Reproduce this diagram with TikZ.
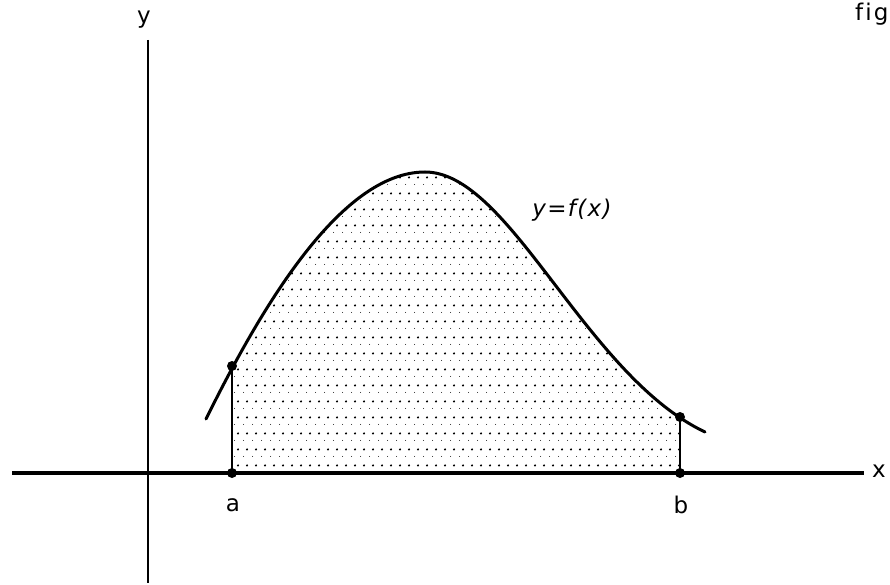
\documentclass[tikz,border=0pt]{standalone}
\usepackage{fontspec}
\setmainfont{DejaVu Sans}[Ligatures=NoCommon]
\usetikzlibrary{patterns.meta}

\tikzdeclarepattern{
  name=areadots,
  type=uncolored,
  bounding box={(0pt,0pt) and (9pt,16pt)},
  tile size={(9pt,16pt)},
  code={
    \fill (0pt,0pt) circle (1.25pt);
    \fill (4.5pt,8pt) circle (1.25pt);
  }
}

\begin{document}
\begin{tikzpicture}[
  x=1pt,y=-1pt,
  lbl/.style={inner sep=0pt,font=\fontsize{23}{26}\selectfont\addfontfeature{LetterSpace=9}},
  axis/.style={line width=3.4pt},
  curve/.style={line width=3pt,line cap=round},
  ordinate/.style={line width=2.8pt},
  pt/.style={circle,fill,inner sep=0pt,minimum size=10pt},
]
  \useasboundingbox (0,0) rectangle (890,585);

  % axes
  \coordinate (xl) at (12,473);
  \coordinate (xr) at (864,473);
  \coordinate (yt) at (148,40);
  \coordinate (yb) at (148,583);

  % shaded area between a and b
  \begin{scope}
    \clip (232,0) rectangle (680,473);
    \fill[pattern=areadots] (206,419) .. controls (260,310) and (340,172) .. (425,172)
      .. controls (510,172) and (585,375) .. (705,432) -- (705,473) -- (206,473) -- cycle;
  \end{scope}

  \draw[axis] (xl) -- (xr);
  \draw[line width=2.4pt] (yt) -- (yb);

  % the curve
  \draw[curve] (206,419) .. controls (260,310) and (340,172) .. (425,172)
    .. controls (510,172) and (585,375) .. (705,432);

  \node[pt] (fa) at (232,366) {};
  \node[pt] (fb) at (680,417) {};
  \node[pt] (xa) at (232,473) {};
  \node[pt] (xb) at (680,473) {};
  \draw[ordinate] (fa.center) -- (xa.center);
  \draw[ordinate] (fb.center) -- (xb.center);

  % labels
  \node[lbl] (ylab) at (144,20) {y};
  \node[lbl] (xlab) at (879,471) {x};
  \node[lbl] (alab) at (233,505) {a};
  \node[lbl] (blab) at (681,505) {b};
  \node[lbl,font=\fontsize{23}{26}\selectfont\itshape\addfontfeature{LetterSpace=6}] (flab) at (572,210) {y=f(x)};
  \node[lbl,anchor=west] (fig) at (855,14) {fig};
\end{tikzpicture}
\end{document}
